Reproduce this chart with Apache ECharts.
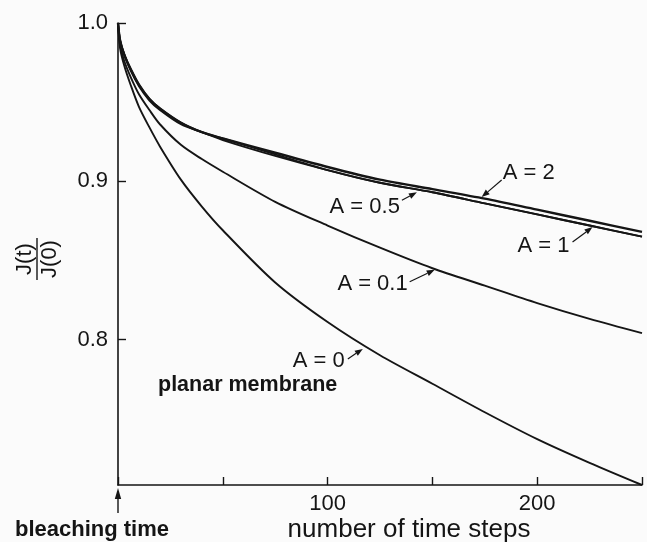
<!DOCTYPE html>
<html><head><meta charset="utf-8">
<script src="https://cdn.jsdelivr.net/npm/echarts@6/dist/echarts.min.js"></script>
<style>html,body{margin:0;padding:0;background:#fbfbfb}#c{width:647px;height:542px}</style>
</head><body><div id="c"></div>
<script>
// number of time steps
const steps = [0, 1, 3, 6, 10, 15, 20, 30, 40, 50, 75, 100, 125, 150, 175, 200, 225, 250];
// J(t)/J(0)
const a0   = [1.0, 0.984, 0.973, 0.961, 0.947, 0.934, 0.922, 0.901, 0.884, 0.869, 0.836, 0.811, 0.790, 0.772, 0.754, 0.737, 0.722, 0.708];
const a01  = [1.0, 0.986, 0.976, 0.966, 0.955, 0.945, 0.936, 0.923, 0.914, 0.906, 0.887, 0.872, 0.858, 0.845, 0.834, 0.823, 0.813, 0.804];
const a05  = [1.0, 0.989, 0.980, 0.970, 0.960, 0.951, 0.945, 0.936, 0.931, 0.926, 0.916, 0.907, 0.899, 0.893, 0.886, 0.879, 0.872, 0.865];
const a1   = [1.0, 0.989, 0.980, 0.971, 0.961, 0.952, 0.946, 0.937, 0.931, 0.927, 0.917, 0.907, 0.899, 0.893, 0.886, 0.879, 0.872, 0.865];
const a2   = [1.0, 0.989, 0.980, 0.971, 0.961, 0.952, 0.946, 0.937, 0.931, 0.927, 0.918, 0.909, 0.901, 0.895, 0.889, 0.882, 0.875, 0.868];
const yTicks = [0.8, 0.9, 1.0];
const xTickLabels = [100, 200];
const curveNames = ['A = 0', 'A = 0.1', 'A = 0.5', 'A = 1', 'A = 2'];

const FONT = '"Liberation Sans", Arial, Helvetica, sans-serif';
const INK = '#151515';
const chart = echarts.init(document.getElementById('c'));
const pairs = vals => steps.map((t, i) => [t, vals[i]]);
const allVals = [a0, a01, a05, a1, a2];

chart.setOption({
  animation: false,
  backgroundColor: '#fbfbfb',
  grid: { left: 118, right: 5, top: 23, bottom: 57 },
  xAxis: {
    type: 'value', min: 0, max: 250, interval: 50,
    axisLine: { lineStyle: { color: INK, width: 1.6 } },
    axisTick: { inside: true, length: 8, lineStyle: { color: INK, width: 1.4 } },
    axisLabel: { customValues: xTickLabels, fontSize: 22, color: INK, fontFamily: FONT, margin: 8 },
    splitLine: { show: false }
  },
  yAxis: {
    type: 'value', min: 0.708, max: 1.0,
    axisLine: { show: true, lineStyle: { color: INK, width: 1.6 } },
    axisTick: { show: true, inside: true, length: 8, customValues: yTicks, lineStyle: { color: INK, width: 1.4 } },
    axisLabel: { customValues: yTicks, formatter: v => v.toFixed(1), fontSize: 22, color: INK, fontFamily: FONT, margin: 10 },
    splitLine: { show: false }
  },
  series: allVals.map((vals, i) => ({
    name: curveNames[i], type: 'line', data: pairs(vals), smooth: 0.3,
    showSymbol: false, lineStyle: { color: INK, width: i === 4 ? 2.4 : 1.9 }
  }))
});

function arrow(from, to) {
  const dx = to[0] - from[0], dy = to[1] - from[1];
  const L = Math.hypot(dx, dy), ux = dx / L, uy = dy / L;
  const hl = 8, hw = 3;
  const bx = to[0] - ux * hl, by = to[1] - uy * hl;
  return [
    { type: 'line', shape: { x1: from[0], y1: from[1], x2: bx, y2: by }, style: { stroke: INK, lineWidth: 1.2 } },
    { type: 'polygon', shape: { points: [to, [bx - uy * hw, by + ux * hw], [bx + uy * hw, by - ux * hw]] }, style: { fill: INK } }
  ];
}
const tip = (t, v) => chart.convertToPixel({ gridIndex: 0 }, [t, v]);
// annotations: [label, tip t, tip v, text dx, text dy, align, arrow start dx, dy]
const notes = [
  ['A = 0', 116.8, 0.794, -18, 12, 'right', -15, 10],
  ['A = 0.1', 151.1, 0.844, -27, 14, 'right', -25, 12],
  ['A = 0.5', 142.6, 0.893, -17, 15, 'right', -15, 8],
  ['A = 1', 226.4, 0.871, -23, 19, 'right', -20, 15],
  ['A = 2', 173.5, 0.890, 21, -24, 'left', 20, -17]
];
const g = [];
notes.forEach(n => {
  const p = tip(n[1], n[2]);
  g.push({ type: 'text', x: p[0] + n[3], y: p[1] + n[4], style: { text: n[0], fontSize: 22, fontFamily: FONT, fill: INK, align: n[5], verticalAlign: 'middle' } });
  g.push(...arrow([p[0] + n[6], p[1] + n[7]], p));
});
const o = tip(0, 0.708);
g.push({ type: 'line', shape: { x1: o[0], y1: o[1] + 10, x2: o[0], y2: o[1] + 28 }, style: { stroke: INK, lineWidth: 1.4 } });
g.push({ type: 'polygon', shape: { points: [[o[0], o[1] + 3], [o[0] - 3.2, o[1] + 14], [o[0] + 3.2, o[1] + 14]] }, style: { fill: INK } });
g.push({ type: 'text', x: 15, y: 530, style: { text: 'bleaching time', fontSize: 22, fontWeight: 'bold', fontFamily: FONT, fill: INK, align: 'left', verticalAlign: 'middle' } });
g.push({ type: 'text', x: 409, y: 530, style: { text: 'number of time steps', fontSize: 26, fontFamily: FONT, fill: INK, align: 'center', verticalAlign: 'middle' } });
g.push({ type: 'text', x: 158, y: 385, style: { text: 'planar membrane', fontSize: 21.5, fontWeight: 'bold', fontFamily: FONT, fill: INK, align: 'left', verticalAlign: 'middle' } });
g.push({
  type: 'group', x: 37, y: 259, rotation: Math.PI / 2,
  children: [
    { type: 'text', x: 0, y: -12, style: { text: 'J(t)', fontSize: 22, fontFamily: FONT, fill: INK, align: 'center', verticalAlign: 'middle' } },
    { type: 'line', shape: { x1: -21, y1: 0, x2: 21, y2: 0 }, style: { stroke: INK, lineWidth: 1.4 } },
    { type: 'text', x: 0, y: 13, style: { text: 'J(0)', fontSize: 22, fontFamily: FONT, fill: INK, align: 'center', verticalAlign: 'middle' } }
  ]
});
chart.setOption({ graphic: g });
</script></body></html>
